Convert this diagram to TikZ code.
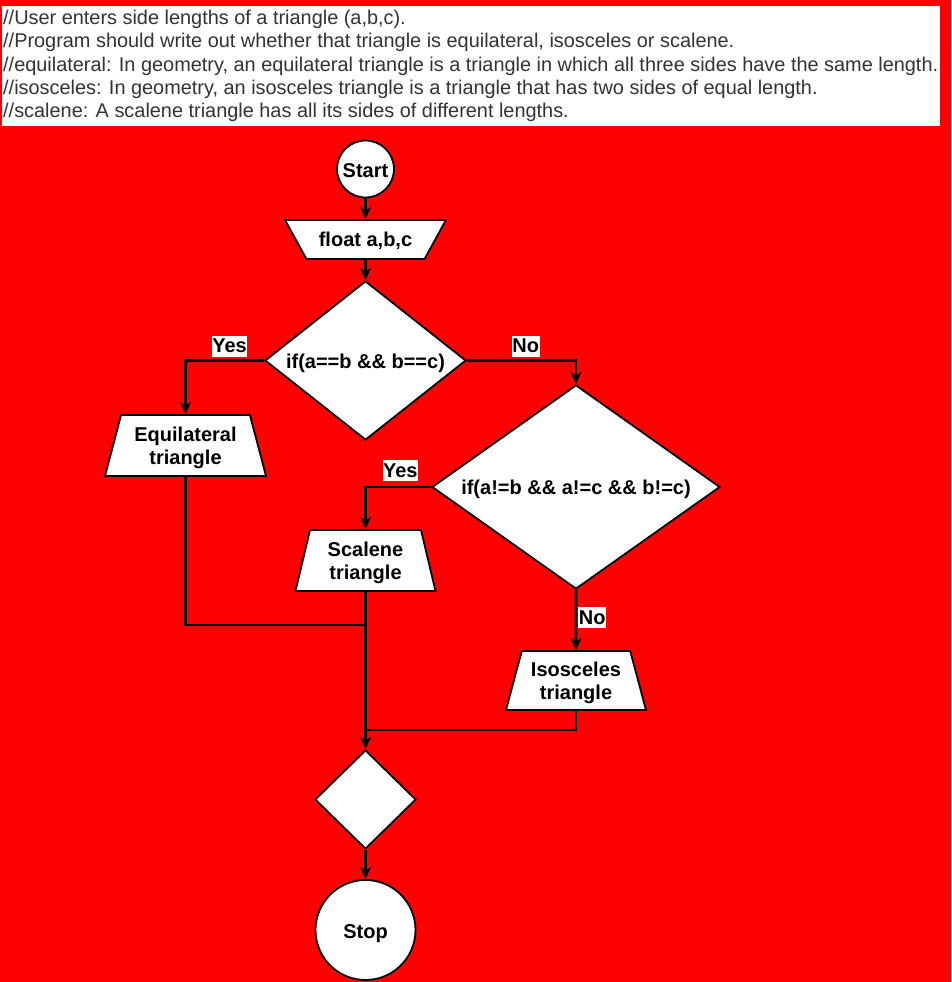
\documentclass[tikz,border=0pt]{standalone}
\usepackage{fontspec}
\setmainfont{Liberation Sans}
\usetikzlibrary{shapes.geometric,arrows.meta}
\definecolor{bgred}{RGB}{255,0,0}
\definecolor{notegray}{RGB}{51,51,51}
\tikzset{
  box/.style={draw, fill=white, line width=1.8pt, align=center,
    font=\bfseries\fontsize{20}{23}\selectfont},
  term/.style={box, circle, inner sep=0pt, text height=21pt, text depth=4pt},
  trap/.style={box, trapezium, trapezium stretches body, inner sep=1pt},
  twoline/.style={text height=41.5pt},
  decision/.style={box, diamond, inner sep=0pt, text height=19pt, text depth=4pt},
  line/.style={line width=2.6pt},
  arrow/.style={line, -{Stealth[length=12pt,width=11pt,inset=3.5pt]}},
  lbl/.style={fill=white, inner sep=0.5pt, minimum height=21pt,
    font=\bfseries\fontsize{20}{23}\selectfont},
  note/.style={anchor=base west, inner sep=0pt, text=notegray,
    font=\fontsize{19.9}{23}\selectfont}
}
\begin{document}
\begin{tikzpicture}[x=1pt,y=-1pt]
\useasboundingbox (0,0) rectangle (951,982);
\fill[bgred] (0,0) rectangle (951,982);
\fill[white] (2,6) rectangle (940,126);
% comment lines at the top
\node[note] (n1) at (3,25) {//User enters side lengths of a triangle (a,b,c).};
\node[note] (n2) at (3,48) {//Program should write out whether that triangle is equilateral, isosceles or scalene.};
\node[note] (n3) at (3,71) {//equilateral: In geometry, an equilateral triangle is a triangle in which all three sides have the same length.};
\node[note] (n4) at (3,94) {//isosceles: In geometry, an isosceles triangle is a triangle that has two sides of equal length.};
\node[note] (n5) at (3,117) {//scalene: A scalene triangle has all its sides of different lengths.};
% flowchart
\node[term, minimum size=57pt] (start) at (365.5,169) {Start};
\node[trap, text height=17.5pt, trapezium angle=133.5, minimum width=161pt, minimum height=39pt] (input) at (365.5,239.5) {float a,b,c};
\node[decision, aspect=1.26, minimum width=201pt, minimum height=159pt] (isEqui) at (365.5,360.5) {if(a==b \&\& b==c)};
\node[trap, twoline, trapezium angle=71.4, minimum width=161pt, minimum height=61pt] (equi) at (185.5,445.5) {Equilateral\\triangle};
\node[decision, aspect=1.41, minimum width=288pt, minimum height=204pt] (isScal) at (576,487) {if(a!=b \&\& a!=c \&\& b!=c)};
\node[trap, twoline, trapezium angle=73.1, minimum width=140pt, minimum height=61pt] (scal) at (365.5,560.5) {Scalene\\triangle};
\node[trap, twoline, trapezium angle=71.7, minimum width=140pt, minimum height=59pt] (iso) at (576,680.5) {Isosceles\\triangle};
\node[decision, aspect=1, minimum width=101pt, minimum height=99pt] (merge) at (365.5,799.5) {};
\node[term, minimum size=100pt] (stop) at (365.5,930) {Stop};
\coordinate (j1) at (365.5,625);
\coordinate (j2) at (365.5,730);
% connectors
\draw[arrow] (start) -- (input);
\draw[arrow] (input) -- (isEqui);
\draw[arrow] (isEqui.west) -| node[lbl, pos=0.22, anchor=south, yshift=2.5pt] {Yes} (equi.north);
\draw[arrow] (isEqui.east) -| node[lbl, pos=0.27, anchor=south, yshift=2.5pt] {No} (isScal.north);
\draw[arrow] (isScal.west) -| node[lbl, pos=0.235, anchor=south, yshift=4.5pt] {Yes} (scal.north);
\draw[arrow] (isScal.south) -- node[lbl, pos=0.46, anchor=west, xshift=1pt] {No} (iso.north);
\draw[line] (equi.south) |- (j1);
\draw[line] (iso.south) |- (j2);
\draw[arrow] (scal.south) -- (merge.north);
\draw[arrow] (merge) -- (stop);
\end{tikzpicture}
\end{document}
